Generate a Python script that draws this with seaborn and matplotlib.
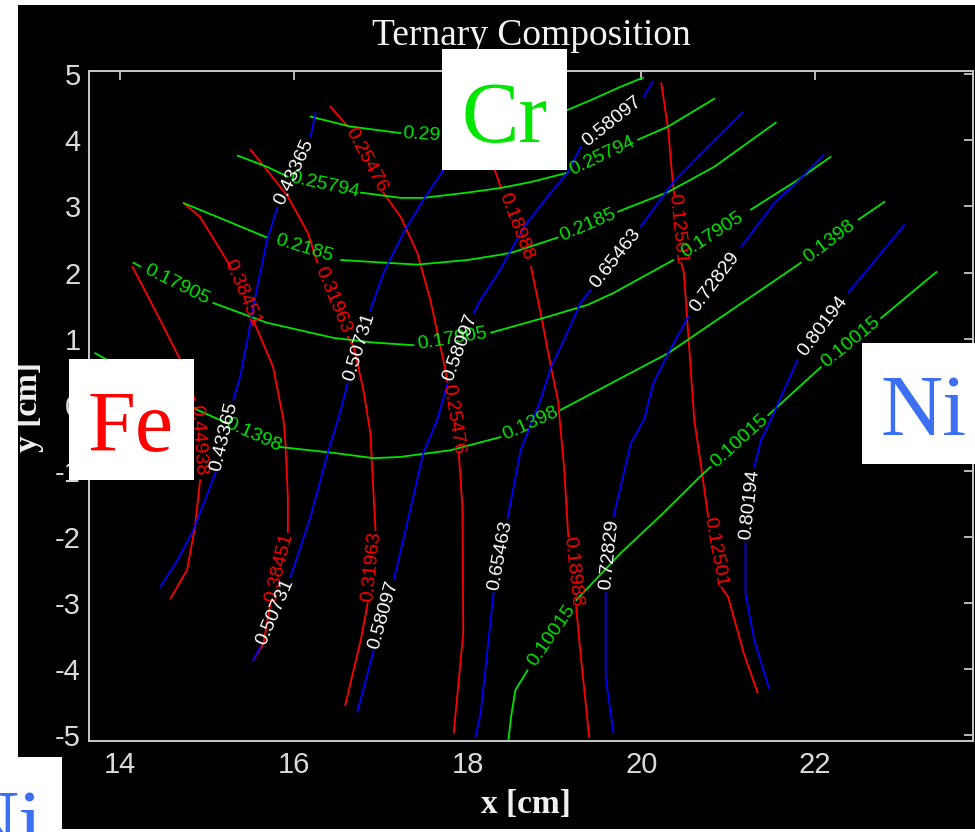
import matplotlib
matplotlib.use("Agg")
import numpy as np
import pandas as pd
import matplotlib.pyplot as plt
from matplotlib.patches import Rectangle
import seaborn as sns

# ---------------------------------------------------------------------------
# Contour levels (fraction of each element)
# ---------------------------------------------------------------------------
fe_levels = [0.44938, 0.38451, 0.31963, 0.25476, 0.18988, 0.12501]
cr_levels = [0.29739, 0.25794, 0.2185, 0.17905, 0.1398, 0.10015]
ni_levels = [0.43365, 0.50731, 0.58097, 0.65463, 0.72829, 0.80194]

# Contour lines as visible pieces of (x, y) in cm; a value label sits in
# every gap between two consecutive pieces.
fe_044938 = [
    [(14.14, 2.09), (14.46, 1.28), (14.69, 0.68), (14.86, 0.07)],
    [(14.92, -1.14), (14.86, -1.85), (14.77, -2.50), (14.58, -2.93)],
]
fe_038451 = [
    [(14.73, 3.05), (14.92, 2.84), (15.27, 2.09)],
    [(15.53, 1.28), (15.58, 1.13), (15.76, 0.57), (15.88, -0.23), (15.90, -0.53),
     (15.93, -1.40), (15.93, -1.93)],
    [(15.73, -3.00), (15.65, -3.61), (15.53, -3.87)],
]
fe_031963 = [
    [(15.50, 3.86), (15.69, 3.55), (15.93, 3.15), (16.16, 2.60), (16.27, 2.15)],
    [(16.62, 1.03), (16.69, 0.87), (16.80, 0.22), (16.88, -0.43), (16.92, -1.44),
     (16.94, -1.90)],
    [(16.85, -3.00), (16.77, -3.56), (16.59, -4.55)],
]
fe_025476 = [
    [(16.42, 4.51), (16.62, 4.21)],
    [(17.03, 3.21), (17.23, 2.84), (17.42, 2.30), (17.57, 1.59), (17.72, 0.68),
     (17.77, 0.33)],
    [(17.90, -0.76), (17.94, -1.55), (17.95, -3.46), (17.84, -4.97)],
]
fe_018988 = [
    [(18.03, 4.54), (18.27, 3.71), (18.38, 3.30)],
    [(18.73, 2.09), (18.84, 1.39), (18.96, 0.57), (19.04, 0.07), (19.11, -0.94),
     (19.16, -2.00)],
    [(19.25, -3.06), (19.30, -3.76), (19.40, -5.03)],
]
fe_012501 = [
    [(20.23, 4.87), (20.31, 4.16), (20.36, 3.40), (20.38, 3.18)],
    [(20.46, 2.15), (20.49, 2.00), (20.54, 1.09), (20.61, -0.23), (20.69, -0.94),
     (20.77, -1.70)],
    [(20.92, -2.76), (21.00, -2.91), (21.18, -3.76), (21.34, -4.36)],
]

cr_029739 = [
    [(16.19, 4.36), (16.65, 4.21), (17.23, 4.11)],
    [(18.09, 4.04), (18.61, 4.16), (19.15, 4.46), (19.42, 4.61), (19.76, 4.81),
     (20.02, 4.95)],
]
cr_025794 = [
    [(15.35, 3.77), (15.69, 3.60), (15.93, 3.45)],
    [(16.77, 3.21), (17.23, 3.13), (17.49, 3.13), (18.00, 3.21), (18.38, 3.28),
     (18.73, 3.37), (19.15, 3.51)],
    [(19.96, 4.01), (20.31, 4.21), (20.84, 4.63)],
]
cr_021850 = [
    [(14.73, 3.05), (15.12, 2.84), (15.69, 2.53)],
    [(16.54, 2.19), (17.03, 2.15), (17.42, 2.12), (18.00, 2.19), (18.38, 2.27),
     (18.53, 2.31), (19.04, 2.53)],
    [(19.73, 2.92), (20.31, 3.22), (20.84, 3.60), (21.55, 4.27)],
]
cr_017905 = [
    [(14.15, 2.15), (14.23, 2.09)],
    [(15.07, 1.54), (15.69, 1.24), (16.46, 1.01), (16.92, 0.94), (17.38, 0.90)],
    [(18.27, 1.09), (18.92, 1.33), (19.38, 1.51), (19.68, 1.69), (20.37, 2.19)],
    [(21.26, 2.95), (21.80, 3.40), (22.18, 3.75)],
]
cr_013980 = [
    [(13.71, 0.78), (14.89, -0.08), (15.23, -0.28)],
    [(15.84, -0.64), (16.46, -0.73), (16.92, -0.81), (17.23, -0.79), (17.80, -0.69),
     (18.38, -0.49)],
    [(19.07, -0.08), (20.31, 0.78), (21.84, 2.15)],
    [(22.50, 2.80), (22.80, 3.07)],
]
cr_010015 = [
    [(18.47, -5.08), (18.50, -4.73), (18.55, -4.32), (18.69, -4.02)],
    [(19.25, -2.96), (19.76, -2.25), (20.23, -1.67), (20.66, -1.11), (20.80, -0.94)],
    [(21.46, -0.16), (22.07, 0.57)],
    [(22.76, 1.31), (23.40, 2.01)],
]

ni_043365 = [
    [(16.25, 4.42), (16.19, 4.05)],
    [(15.81, 2.99), (15.69, 2.49), (15.53, 1.48), (15.48, 1.09), (15.38, 0.42),
     (15.30, 0.07)],
    [(15.10, -1.02), (14.84, -1.90), (14.66, -2.35), (14.46, -2.76)],
]
ni_050731 = [
    [(18.15, 4.46), (17.72, 3.55), (17.49, 3.10), (17.26, 2.60), (17.03, 1.99),
     (16.88, 1.43)],
    [(16.62, 0.33), (16.54, -0.08), (16.39, -0.73), (16.19, -1.70), (15.96, -2.61)],
    [(15.61, -3.67), (15.53, -3.87)],
]
ni_058097 = [
    [(20.13, 4.89), (20.03, 4.66)],
    [(19.30, 3.90), (19.15, 3.51), (18.92, 3.15), (18.65, 2.69), (18.35, 1.99),
     (18.15, 1.59), (18.07, 1.39)],
    [(17.77, 0.33), (17.65, -0.23), (17.49, -0.73), (17.34, -1.59), (17.15, -2.65)],
    [(16.92, -3.71), (16.73, -4.65)],
]
ni_065463 = [
    [(21.17, 4.43), (20.65, 3.75), (20.37, 3.37), (19.99, 2.69)],
    [(19.42, 1.74), (19.30, 1.54), (19.11, 0.98), (18.96, 0.57), (18.84, 0.07),
     (18.61, -0.69), (18.46, -1.72)],
    [(18.30, -2.84), (18.15, -4.67), (18.09, -5.03)],
]
ni_072829 = [
    [(22.10, 3.78), (21.84, 3.43), (21.53, 3.05), (21.15, 2.39)],
    [(20.54, 1.33), (20.31, 0.78), (20.14, 0.33), (20.03, -0.23), (19.88, -0.58),
     (19.68, -1.70)],
    [(19.59, -2.84), (19.59, -4.12), (19.68, -4.97)],
]
ni_080194 = [
    [(23.03, 2.72), (22.38, 1.69)],
    [(21.80, 0.68), (21.49, -0.23), (21.38, -0.53), (21.30, -0.94)],
    [(21.20, -2.09), (21.20, -2.85), (21.30, -3.56), (21.47, -4.29)],
]

fe_lines = [fe_044938, fe_038451, fe_031963, fe_025476, fe_018988, fe_012501]
cr_lines = [cr_029739, cr_025794, cr_021850, cr_017905, cr_013980, cr_010015]
ni_lines = [ni_043365, ni_050731, ni_058097, ni_065463, ni_072829, ni_080194]

x_ticks = [14, 16, 18, 20, 22]
y_ticks = [-5, -4, -3, -2, -1, 0, 1, 2, 3, 4, 5]
x_range = (13.64, 23.82)
y_range = (-5.09, 5.05)

line_colors = {"Fe": "#ff0000", "Cr": "#00e400", "Ni": "#0000ff"}
label_colors = {"Fe": "#ff0000", "Cr": "#00e400", "Ni": "#ffffff"}

# corner tags: name, colour, box (left, top) in pixels, text baseline centre in pixels
tag_names = ["Cr", "Fe", "Ni", "Ni"]
tag_colors = ["#00e600", "#ff0000", "#3d6ff2", "#3d6ff2"]
tag_boxes = [(442, 49), (69, 359), (862, 343), (-63, 757)]
tag_text = [(505, 142), (130.5, 451), (923.5, 435), (-0.5, 850)]

# ---------------------------------------------------------------------------
W, H = 975, 832
sns.set_theme(style="dark")
plt.rcParams["font.family"] = ["Liberation Sans", "DejaVu Sans"]
plt.rcParams["axes.unicode_minus"] = False

fig = plt.figure(figsize=(W / 100, H / 100), dpi=100, facecolor="white")


def fx(px):
    return px / W


def fy(py):
    return 1 - py / H


# black figure area
fig.add_artist(Rectangle((fx(18), fy(829)), fx(975) - fx(18), fy(5) - fy(829),
                         transform=fig.transFigure, facecolor="black",
                         edgecolor="none", zorder=-10))

ax = fig.add_axes([fx(89), fy(741), fx(973) - fx(89), fy(71) - fy(741)])
ax.set_facecolor("black")

rows = []
for element, levels, lines in (("Fe", fe_levels, fe_lines),
                               ("Cr", cr_levels, cr_lines),
                               ("Ni", ni_levels, ni_lines)):
    for level, pieces in zip(levels, lines):
        for k, piece in enumerate(pieces):
            for x, y in piece:
                rows.append({"element": element, "level": level,
                             "piece": f"{element}_{level}_{k}", "x": x, "y": y})
df = pd.DataFrame(rows)

sns.lineplot(data=df, x="x", y="y", hue="element", units="piece",
             estimator=None, sort=False, palette=line_colors, linewidth=1.3,
             legend=False, ax=ax)

ax.set_xlim(*x_range)
ax.set_ylim(*y_range)
ax.set_xticks(x_ticks)
ax.set_yticks(y_ticks)
ax.set_xticklabels([f"{t:g}" for t in x_ticks])
ax.set_yticklabels([f"{t:g}" for t in y_ticks])
ax.grid(False)

for side in ax.spines.values():
    side.set_color("#c8c8c8")
    side.set_linewidth(1.4)
ax.tick_params(axis="both", direction="in", top=True, right=True, length=6.5,
               width=1.3, color="#c8c8c8", labelcolor="#dadada", labelsize=21)
ax.tick_params(axis="x", pad=7)
ax.tick_params(axis="y", pad=6)

# inline value labels, rotated along each gap of the line
for element, levels, lines in (("Fe", fe_levels, fe_lines),
                               ("Cr", cr_levels, cr_lines),
                               ("Ni", ni_levels, ni_lines)):
    for level, pieces in zip(levels, lines):
        for a, b in zip(pieces[:-1], pieces[1:]):
            p0, p1 = np.array(a[-1]), np.array(b[0])
            d0, d1 = ax.transData.transform([p0, p1])
            ang = np.degrees(np.arctan2(d1[1] - d0[1], d1[0] - d0[0]))
            if ang > 90:
                ang -= 180
            elif ang <= -90:
                ang += 180
            mid = (p0 + p1) / 2
            ax.text(mid[0], mid[1], f"{level:.5g}", rotation=ang,
                    rotation_mode="anchor", ha="center", va="center",
                    fontsize=14, color=label_colors[element],
                    family=["Liberation Sans", "DejaVu Sans"])

serif = ["Liberation Serif", "DejaVu Serif"]
ax.set_title("Ternary Composition", y=(741 - 45) / 670, pad=0, va="baseline",
             color="#f2f2f2", fontsize=27, family=serif)
ax.set_xlabel("x [cm]", fontsize=24, fontweight="bold", color="#f0f0f0",
              family=serif, va="baseline")
ax.xaxis.set_label_coords((526 - 89) / 884, (741 - 813) / 670)
ax.set_ylabel("y [cm]", fontsize=24, fontweight="bold", color="#f0f0f0",
              family=serif, va="center", ha="center")
ax.yaxis.set_label_coords((28.5 - 89) / 884, (741 - 407) / 670)

# white page margin beyond the figure area
fig.add_artist(Rectangle((0, 0), fx(18), 1, transform=fig.transFigure,
                         facecolor="white", edgecolor="none", zorder=4))
fig.add_artist(Rectangle((0, fy(5)), 1, 1 - fy(5), transform=fig.transFigure,
                         facecolor="white", edgecolor="none", zorder=4))

# element tags
for name, color, (bx, by), (tx, ty) in zip(tag_names, tag_colors, tag_boxes, tag_text):
    fig.add_artist(Rectangle((fx(bx), fy(by + 121)), 125 / W, 121 / H,
                             transform=fig.transFigure, facecolor="white",
                             edgecolor="none", zorder=5))
    fig.text(fx(tx), fy(ty), name, ha="center", va="baseline", fontsize=62,
             color=color, family=serif, zorder=6)

fig.savefig("out.png", dpi=100, facecolor=fig.get_facecolor())
